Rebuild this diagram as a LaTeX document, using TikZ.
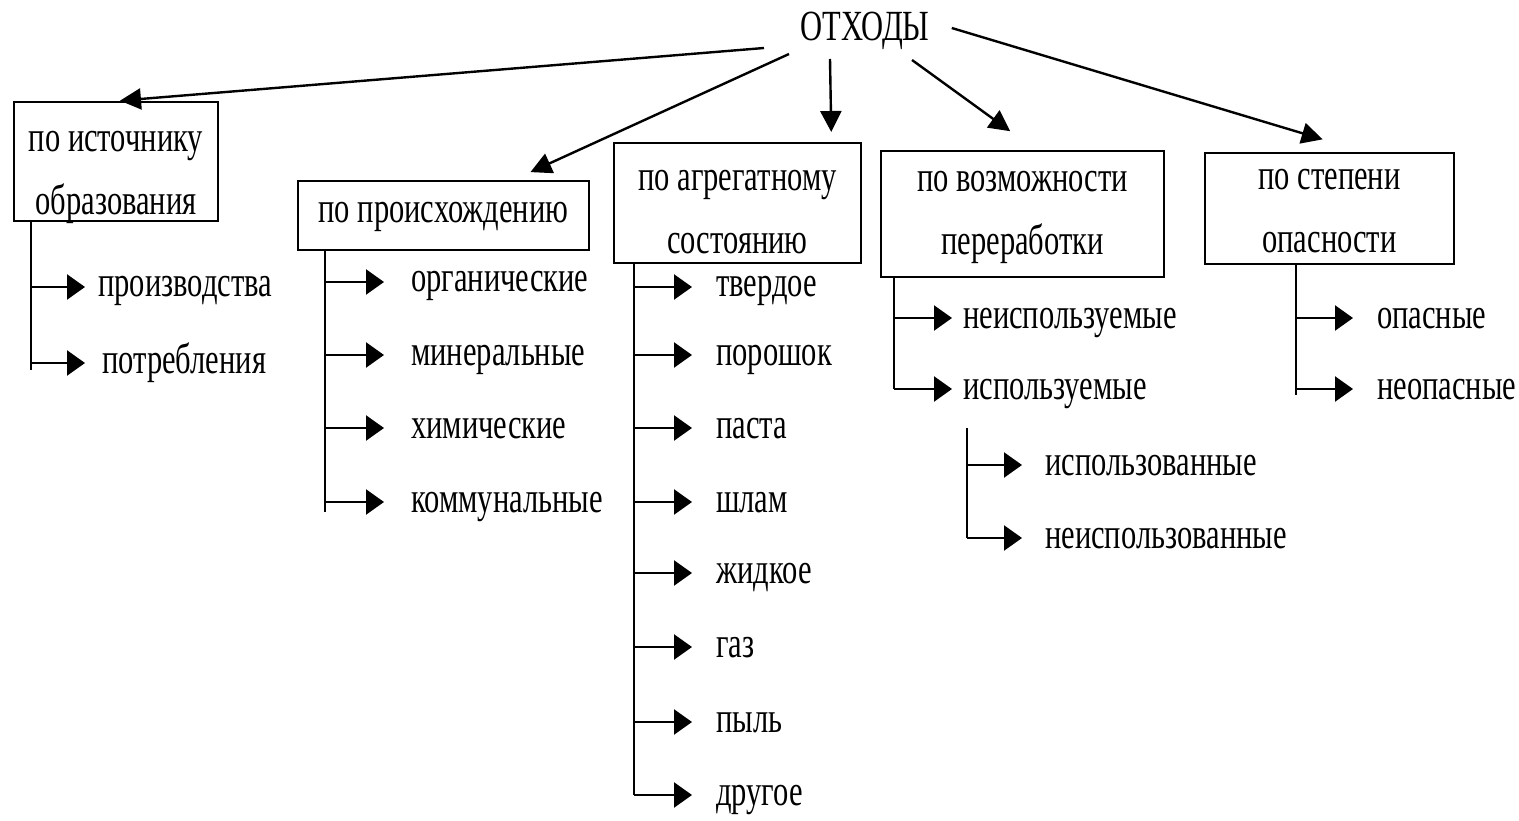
\documentclass[tikz,border=0pt]{standalone}
\usepackage{fontspec}
\setmainfont{Liberation Serif}[FakeStretch=0.71]
\usetikzlibrary{arrows.meta}

\tikzset{
  catbox/.style={draw, line width=2pt, align=center, inner sep=0pt},
  leaf/.style={anchor=west, inner sep=0pt, text height=26pt, text depth=6pt},
  stemline/.style={line width=1.7pt},
  mainarrow/.style={line width=2.4pt, -{Triangle[length=21pt,width=21pt]}},
  itemarrow/.style={line width=2.4pt, -{Triangle[length=18pt,width=25pt]}}
}

\begin{document}
\begin{tikzpicture}[x=1pt, y=-1pt, font=\fontsize{43}{63}\selectfont]
        \useasboundingbox (0,0) rectangle (1519,821);
        \node[inner xsep=22pt] (root) at (865,31) {ОТХОДЫ};
        % categories
        \node[catbox, minimum width=204pt, minimum height=119pt] (box1) at (116,161.5)
            {\rule{0pt}{44pt}\smash{по источнику}\\\smash{образования}};
        \node[catbox, minimum width=291pt, minimum height=69pt] (box2) at (443.5,215.5)
            {\rule{0pt}{15pt}\smash{по происхождению}};
        \node[catbox, minimum width=247pt, minimum height=120pt] (box3) at (737.5,203)
            {\rule{0pt}{38pt}\smash{по агрегатному}\\\smash{состоянию}};
        \node[catbox, minimum width=283pt, minimum height=126pt] (box4) at (1022.5,214)
            {\rule{0pt}{19pt}\smash{по возможности}\\\smash{переработки}};
        \node[catbox, minimum width=249pt, minimum height=111pt] (box5) at (1329.5,208.5)
            {\rule{0pt}{25pt}\smash{по степени}\\\smash{опасности}};
        \coordinate (r1) at ([shift={(-101,17)}]root.center);
        \coordinate (r2) at ([shift={(-76,23)}]root.center);
        \coordinate (r3) at ([shift={(-35,28)}]root.center);
        \coordinate (r4) at ([shift={(47,29)}]root.center);
        \draw[mainarrow, shorten >=4pt] (r1) -- (box1.north);
        \draw[mainarrow, shorten >=19pt] (r2) -- (box2.27);
        \draw[mainarrow, shorten >=10pt] (r3) -- (box3.33);
        \draw[mainarrow, shorten >=32pt] (r4) -- (box4.78);
        \draw[mainarrow, shorten >=44pt] ([yshift=3pt]root.east) -- (box5.58);
        % по источнику
        \node[leaf] (prod) at (98,287) {производства};
        \node[leaf] (potr) at (102,363) {потребления};
        \coordinate (s1) at ([xshift=18pt]box1.south west);
        \draw[stemline] (s1) -- (s1 |- potr.west) -- ++(0,7);
        \draw[itemarrow, shorten >=13pt] (s1 |- prod.west) -- (prod.west);
        \draw[itemarrow, shorten >=17pt] (s1 |- potr.west) -- (potr.west);
        % по происхождению
        \node[leaf] (org) at (411,282) {органические};
        \node[leaf] (mineral) at (411,355) {минеральные};
        \node[leaf] (chem) at (411,428) {химические};
        \node[leaf] (komm) at (411,502) {коммунальные};
        \coordinate (s2) at ([xshift=28pt]box2.south west);
        \draw[stemline] (s2) -- (s2 |- komm.west) -- ++(0,10);
        \draw[itemarrow, shorten >=27pt] (s2 |- org.west) -- (org.west);
        \draw[itemarrow, shorten >=27pt] (s2 |- mineral.west) -- (mineral.west);
        \draw[itemarrow, shorten >=27pt] (s2 |- chem.west) -- (chem.west);
        \draw[itemarrow, shorten >=27pt] (s2 |- komm.west) -- (komm.west);
        % по агрегатному состоянию
        \node[leaf] (solid) at (716,287) {твердое};
        \node[leaf] (powder) at (716,355) {порошок};
        \node[leaf] (paste) at (716,428) {паста};
        \node[leaf] (sludge) at (716,502) {шлам};
        \node[leaf] (liquid) at (716,573) {жидкое};
        \node[leaf] (gas) at (716,647) {газ};
        \node[leaf] (dust) at (716,722) {пыль};
        \node[leaf] (other) at (716,795) {другое};
        \coordinate (s3) at ([xshift=21pt]box3.south west);
        \draw[stemline] (s3) -- (s3 |- other.west);
        \draw[itemarrow, shorten >=24pt] (s3 |- solid.west) -- (solid.west);
        \draw[itemarrow, shorten >=24pt] (s3 |- powder.west) -- (powder.west);
        \draw[itemarrow, shorten >=24pt] (s3 |- paste.west) -- (paste.west);
        \draw[itemarrow, shorten >=24pt] (s3 |- sludge.west) -- (sludge.west);
        \draw[itemarrow, shorten >=24pt] (s3 |- liquid.west) -- (liquid.west);
        \draw[itemarrow, shorten >=24pt] (s3 |- gas.west) -- (gas.west);
        \draw[itemarrow, shorten >=24pt] (s3 |- dust.west) -- (dust.west);
        \draw[itemarrow, shorten >=24pt] (s3 |- other.west) -- (other.west);
        % по возможности переработки
        \node[leaf] (unusable) at (963,318) {неиспользуемые};
        \node[leaf] (usable) at (963,389) {используемые};
        \coordinate (s4) at ([xshift=14pt]box4.south west);
        \draw[stemline] (s4) -- (s4 |- usable.west);
        \draw[itemarrow, shorten >=11pt] (s4 |- unusable.west) -- (unusable.west);
        \draw[itemarrow, shorten >=11pt] (s4 |- usable.west) -- (usable.west);
        \node[leaf] (used) at (1045,465) {использованные};
        \node[leaf] (unused) at (1045,538) {неиспользованные};
        \coordinate (s4b) at ([xshift=4pt, yshift=-39pt]usable.west);
        \draw[stemline] (s4b) -- (s4b |- unused.west);
        \draw[itemarrow, shorten >=23pt] (s4b |- used.west) -- (used.west);
        \draw[itemarrow, shorten >=23pt] (s4b |- unused.west) -- (unused.west);
        % по степени опасности
        \node[leaf] (hazard) at (1377,318) {опасные};
        \node[leaf] (safe) at (1377,389) {неопасные};
        \coordinate (s5) at ([xshift=92pt]box5.south west);
        \draw[stemline] (s5) -- (s5 |- safe.west) -- ++(0,6);
        \draw[itemarrow, shorten >=24pt] (s5 |- hazard.west) -- (hazard.west);
        \draw[itemarrow, shorten >=24pt] (s5 |- safe.west) -- (safe.west);
\end{tikzpicture}
\end{document}
